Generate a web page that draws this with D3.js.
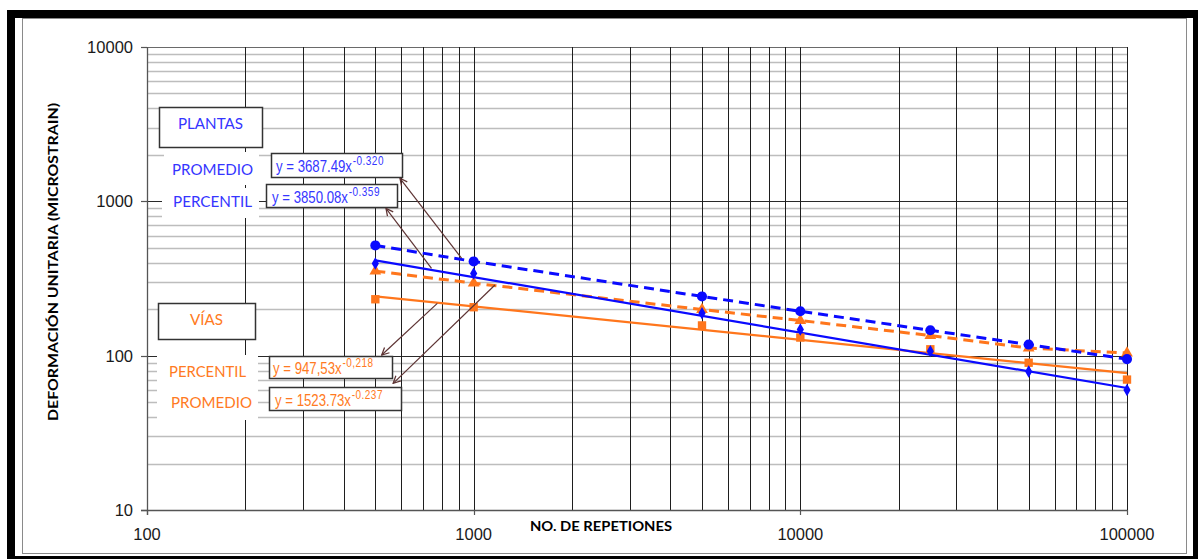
<!DOCTYPE html>
<html>
<head>
<meta charset="utf-8">
<script src="https://cdn.jsdelivr.net/npm/d3@7"></script>
<style>
html,body{margin:0;padding:0;background:#fff;}
svg{display:block;}
</style>
</head>
<body>
<svg id="chart" width="1198" height="559"></svg>
<script>
// ---------- data ----------
const repetitions = [500, 1000, 5000, 10000, 25000, 50000, 100000];
const plantasPromedio = [518, 408, 242, 194, 146, 118, 95];   // blue dashed, big circles
const plantasPercentil = [396, 341, 188, 148, 107, 79, 60];   // blue small markers
const viasPromedio = [353, 295, 199, 169, 135, 112, 104];     // orange dashed, triangles
const viasPercentil = [232, 206, 157, 131, 110, 90, 70];      // orange squares
const plantasTrend = [[500, 414], [100000, 61.7]];            // y = 3850.08x^-0.359
const viasTrend = [[500, 242], [100000, 77]];                 // y = 947,53x^-0.218
const xTicks = [100, 1000, 10000, 100000];
const yTicks = [10, 100, 1000, 10000];
const xTitle = "NO. DE REPETIONES";
const yTitle = "DEFORMACIÓN UNITARIA (MICROSTRAIN)";
// arrows: [fromX, fromY, toX, toY] in data units
const arrows = [
  [918, 428, 595, 1410],
  [743, 368, 539, 901],
  [774, 218, 523, 101],
  [1162, 287, 567, 66.2]
];

const BLUE = "#0a0aff", ORANGE = "#ff761c";
const BLUE_T = "#3535ff", ORANGE_T = "#ff7a22";

const svg = d3.select("#chart");

// frame
svg.append("rect").attr("x",7).attr("y",10).attr("width",1191).attr("height",549).attr("fill","#000");
svg.append("rect").attr("x",15).attr("y",18).attr("width",1178).attr("height",538).attr("fill","#fff");
svg.append("rect").attr("x",22.5).attr("y",18.5).attr("width",1164).attr("height",535)
  .attr("fill","none").attr("stroke","#8a8a8a").attr("stroke-width",1);

const x = d3.scaleLog().domain([100, 100000]).range([147, 1127]);
const y = d3.scaleLog().domain([10, 10000]).range([510, 47]);
const cx = v => Math.round(x(v)) + 0.5;
const cy = v => Math.round(y(v)) + 0.5;

// gridlines
const g = svg.append("g");
const minorVals = [];
[10, 100, 1000].forEach(d => { for (let k = 2; k <= 9; k++) minorVals.push(k * d); });
g.selectAll(".hmin").data(minorVals).join("line")
  .attr("x1", 147).attr("x2", 1127).attr("y1", d => cy(d)).attr("y2", d => cy(d))
  .attr("stroke", "#bdbdbd").attr("stroke-width", 1.3);
g.selectAll(".hmaj").data([100, 1000]).join("line")
  .attr("x1", 141).attr("x2", 1127).attr("y1", d => cy(d)).attr("y2", d => cy(d))
  .attr("stroke", "#2a2a2a").attr("stroke-width", 1);
g.append("line").attr("x1",141).attr("x2",1127).attr("y1",cy(10000)).attr("y2",cy(10000))
  .attr("stroke","#6a6a6a").attr("stroke-width",1.2);
const vVals = [];
[100, 1000, 10000].forEach(d => { for (let k = 1; k <= 9; k++) vVals.push(k * d); });
vVals.push(100000);
g.selectAll(".v").data(vVals.filter(v => v > 100)).join("line")
  .attr("x1", d => cx(d)).attr("x2", d => cx(d)).attr("y1", 47).attr("y2", 510)
  .attr("stroke", "#1e1e1e").attr("stroke-width", 1);

// axes
g.append("line").attr("x1",cx(100)).attr("x2",cx(100)).attr("y1",47).attr("y2",515)
  .attr("stroke","#555").attr("stroke-width",1.3);
g.append("line").attr("x1",141).attr("x2",1127).attr("y1",cy(10)).attr("y2",cy(10))
  .attr("stroke","#555").attr("stroke-width",1.3);
g.selectAll(".xt").data(xTicks).join("line")
  .attr("x1", d => cx(d)).attr("x2", d => cx(d)).attr("y1", 510).attr("y2", 515)
  .attr("stroke", "#555").attr("stroke-width", 1.2);
g.selectAll(".yt").data(yTicks).join("line")
  .attr("x1", 141).attr("x2", 147).attr("y1", d => cy(d)).attr("y2", d => cy(d))
  .attr("stroke", "#555").attr("stroke-width", 1.2);

// tick labels
svg.selectAll(".xl").data(xTicks).join("text")
  .attr("x", d => x(d)).attr("y", 540).attr("text-anchor", "middle")
  .attr("font-family", "Liberation Sans, Arial, sans-serif").attr("font-size", 16.5)
  .attr("fill", "#1a1a1a").text(d => d);
svg.selectAll(".yl").data(yTicks).join("text")
  .attr("x", 133).attr("y", d => y(d) + 6).attr("text-anchor", "end")
  .attr("font-family", "Liberation Sans, Arial, sans-serif").attr("font-size", 16.5)
  .attr("fill", "#1a1a1a").text(d => d);

// axis titles
svg.append("text").attr("x", 530).attr("y", 531)
  .attr("font-family", "Lato, Open Sans, sans-serif").attr("font-weight", "bold")
  .attr("font-size", 14).attr("textLength", 142).attr("lengthAdjust", "spacingAndGlyphs")
  .attr("fill", "#000").text(xTitle);
svg.append("text").attr("transform", "translate(58,262) rotate(-90)")
  .attr("text-anchor", "middle")
  .attr("font-family", "Lato, Open Sans, sans-serif").attr("font-weight", "bold")
  .attr("font-size", 14).attr("textLength", 318).attr("lengthAdjust", "spacingAndGlyphs")
  .attr("fill", "#000").text(yTitle);

// series
const line = d3.line().x(d => x(d[0])).y(d => y(d[1]));
const zip = arr => repetitions.map((r, i) => [r, arr[i]]);

svg.append("path").attr("d", line(viasTrend)).attr("fill","none")
  .attr("stroke", ORANGE).attr("stroke-width", 2.2);
svg.append("path").attr("d", line(zip(viasPromedio))).attr("fill","none")
  .attr("stroke", ORANGE).attr("stroke-width", 3).attr("stroke-dasharray", "10,6");
svg.append("path").attr("d", line(plantasTrend)).attr("fill","none")
  .attr("stroke", BLUE).attr("stroke-width", 2.2);
svg.append("path").attr("d", line(zip(plantasPromedio))).attr("fill","none")
  .attr("stroke", BLUE).attr("stroke-width", 3).attr("stroke-dasharray", "10,6");

function markers(arr, type, size, color) {
  svg.append("g").selectAll("path").data(zip(arr)).join("path")
    .attr("transform", d => `translate(${x(d[0])},${y(d[1])})`)
    .attr("d", d3.symbol().type(type).size(size)).attr("fill", color);
}
markers(viasPercentil, d3.symbolSquare, 70, ORANGE);
markers(viasPromedio, d3.symbolTriangle, 60, ORANGE);
markers(plantasPercentil, d3.symbolDiamond, 45, BLUE);
markers(plantasPromedio, d3.symbolCircle, 80, BLUE);

// labels
function whiteBg(x0, y0, w, h) {
  svg.append("rect").attr("x", x0).attr("y", y0).attr("width", w).attr("height", h).attr("fill", "#fff");
}
function boxed(x0, y0, w, h) {
  svg.append("rect").attr("x", x0 + 0.5).attr("y", y0 + 0.5).attr("width", w).attr("height", h)
    .attr("fill", "#fff").attr("stroke", "#333").attr("stroke-width", 1.5);
}
function label(txt, x0, base, w, color) {
  svg.append("text").attr("x", x0).attr("y", base)
    .attr("font-family", "Lato, Open Sans, sans-serif").attr("font-size", 15)
    .attr("textLength", w).attr("lengthAdjust", "spacingAndGlyphs")
    .attr("fill", color).text(txt);
}
function equation(main, sup, x0, base, color) {
  const t = svg.append("text")
    .attr("transform", `translate(${x0},${base}) scale(0.8,1)`)
    .attr("font-family", "Liberation Sans, Arial, sans-serif").attr("font-size", 16.5)
    .attr("fill", color);
  t.append("tspan").text(main);
  t.append("tspan").attr("dy", -7).attr("dx", 1).attr("font-size", 12.5)
    .attr("letter-spacing", 0.6).text(sup);
}

// Plantas
boxed(159, 107, 103, 40);
label("PLANTAS", 178, 128.5, 65, BLUE_T);
whiteBg(164, 152, 95, 33);
label("PROMEDIO", 172, 175, 81, BLUE_T);
whiteBg(162, 188, 97, 30);
label("PERCENTIL", 173, 207, 79, BLUE_T);
boxed(271, 153, 131, 24);
equation("y = 3687.49x", "-0.320", 276, 172, BLUE_T);
boxed(266, 184, 131, 23);
equation("y = 3850.08x", "-0.359", 272, 203, BLUE_T);

// Vías
boxed(158, 303, 97, 36);
label("VÍAS", 190, 325, 33, ORANGE_T);
whiteBg(157, 355, 101, 33);
label("PERCENTIL", 169, 377, 77, ORANGE_T);
whiteBg(157, 388, 101, 32);
label("PROMEDIO", 171, 408, 81, ORANGE_T);
boxed(269, 356, 123, 22);
equation("y = 947,53x", "-0,218", 273, 374, ORANGE_T);
boxed(269, 387, 132, 23);
equation("y = 1523.73x", "-0.237", 275, 406, ORANGE_T);

// arrows
const defs = svg.append("defs");
defs.append("marker").attr("id", "arr").attr("viewBox", "0 0 10 10")
  .attr("refX", 9).attr("refY", 5).attr("markerWidth", 9).attr("markerHeight", 9)
  .attr("markerUnits", "userSpaceOnUse").attr("orient", "auto")
  .append("path").attr("d", "M1,1 L9,5 L1,9").attr("fill", "none")
  .attr("stroke", "#5e3434").attr("stroke-width", 1.4);
svg.append("g").selectAll("line").data(arrows).join("line")
  .attr("x1", d => x(d[0])).attr("y1", d => y(d[1]))
  .attr("x2", d => x(d[2])).attr("y2", d => y(d[3]))
  .attr("stroke", "#5e3434").attr("stroke-width", 1.2)
  .attr("marker-end", "url(#arr)");
</script>
</body>
</html>
